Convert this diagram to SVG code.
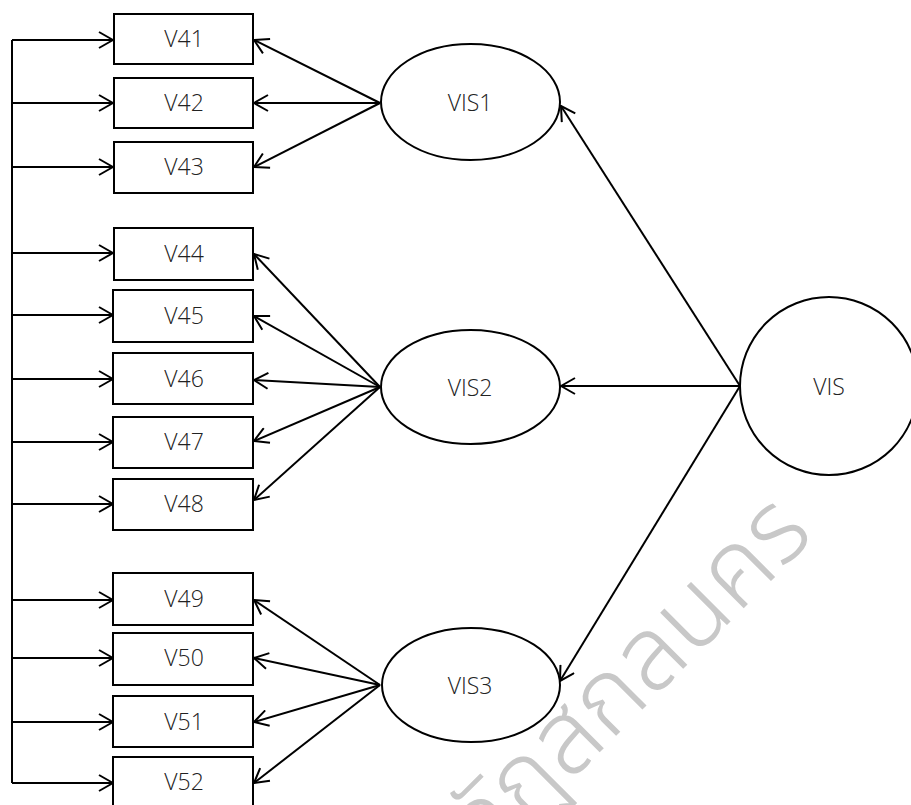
<svg xmlns="http://www.w3.org/2000/svg" width="911" height="805" viewBox="0 0 911 805">
<style>
.box{fill:#fff;stroke:#000;stroke-width:2}
.lat{fill:#fff;stroke:#000;stroke-width:2}
.lbl{font-family:"Open Sans","Liberation Sans",sans-serif;font-weight:300;font-size:23px;fill:#222;text-anchor:middle}
.c{stroke:#000;stroke-width:2;fill:none;marker-end:url(#ah)}
.ln{stroke:#000;stroke-width:2;fill:none}
.wm{font-family:"Noto Sans Thai","Noto Sans","DejaVu Sans",sans-serif;font-weight:300;font-size:102px;fill:#c8c8c8;text-anchor:end}
</style>
<defs>
<marker id="ah" viewBox="0 0 16 18" refX="15" refY="9" markerWidth="16" markerHeight="18" markerUnits="userSpaceOnUse" orient="auto">
<path d="M1,1 L15,9 L1,17" fill="none" stroke="#000" stroke-width="2"/>
</marker>
</defs>
<rect width="911" height="805" fill="#fff"/>
<g id="watermark">
<text class="wm" transform="translate(816,536) rotate(-45)">มหาวิทยาลัยราชภัฏสกลนคร</text>
</g>
<g id="connectors">
<path class="ln" d="M12,40 V783"/>
<path class="c" d="M12,40 H113"/>
<path class="c" d="M12,103 H113"/>
<path class="c" d="M12,167 H113"/>
<path class="c" d="M12,253 H113"/>
<path class="c" d="M12,315 H113"/>
<path class="c" d="M12,379 H113"/>
<path class="c" d="M12,442 H113"/>
<path class="c" d="M12,504 H113"/>
<path class="c" d="M12,600 H113"/>
<path class="c" d="M12,658 H113"/>
<path class="c" d="M12,722 H113"/>
<path class="c" d="M12,783 H113"/>
<path class="c" d="M380,103 L254,40"/>
<path class="c" d="M380,103 L254,103"/>
<path class="c" d="M380,103 L254,167"/>
<path class="c" d="M380,387 L254,254"/>
<path class="c" d="M380,387 L254,316"/>
<path class="c" d="M380,387 L254,380"/>
<path class="c" d="M380,387 L254,441"/>
<path class="c" d="M380,387 L254,500"/>
<path class="c" d="M380,685 L254,600"/>
<path class="c" d="M380,685 L254,658"/>
<path class="c" d="M380,685 L254,722"/>
<path class="c" d="M380,685 L254,783"/>
<path class="c" d="M740,386 L561,106"/>
<path class="c" d="M740,386 L561,386"/>
<path class="c" d="M740,386 L560,681"/>
</g>
<g id="V41"><rect class="box" x="114" y="14" width="139" height="50"/><text class="lbl" x="184" y="47">V41</text></g>
<g id="V42"><rect class="box" x="114" y="78" width="139" height="50"/><text class="lbl" x="184" y="111">V42</text></g>
<g id="V43"><rect class="box" x="114" y="142" width="139" height="51"/><text class="lbl" x="184" y="175">V43</text></g>
<g id="V44"><rect class="box" x="114" y="228" width="139" height="52"/><text class="lbl" x="184" y="262">V44</text></g>
<g id="V45"><rect class="box" x="113" y="290" width="140" height="52"/><text class="lbl" x="184" y="324">V45</text></g>
<g id="V46"><rect class="box" x="113" y="353" width="140" height="51"/><text class="lbl" x="184" y="387">V46</text></g>
<g id="V47"><rect class="box" x="113" y="417" width="140" height="51"/><text class="lbl" x="184" y="450">V47</text></g>
<g id="V48"><rect class="box" x="113" y="479" width="140" height="51"/><text class="lbl" x="184" y="512">V48</text></g>
<g id="V49"><rect class="box" x="113" y="573" width="140" height="52"/><text class="lbl" x="184" y="607">V49</text></g>
<g id="V50"><rect class="box" x="113" y="633" width="140" height="52"/><text class="lbl" x="184" y="666">V50</text></g>
<g id="V51"><rect class="box" x="113" y="696" width="140" height="51"/><text class="lbl" x="184" y="730">V51</text></g>
<g id="V52"><rect class="box" x="113" y="757" width="140" height="52"/><text class="lbl" x="184" y="790">V52</text></g>
<g id="VIS1"><ellipse class="lat" cx="470.5" cy="102" rx="89.5" ry="58"/><text class="lbl" x="470" y="111">VIS1</text></g>
<g id="VIS2"><ellipse class="lat" cx="470.5" cy="387" rx="89.5" ry="57"/><text class="lbl" x="470" y="396">VIS2</text></g>
<g id="VIS3"><ellipse class="lat" cx="471" cy="685" rx="89" ry="57"/><text class="lbl" x="470" y="694">VIS3</text></g>
<g id="VIS"><circle class="lat" cx="829" cy="386" r="89"/><text class="lbl" x="829" y="395">VIS</text></g>
</svg>
